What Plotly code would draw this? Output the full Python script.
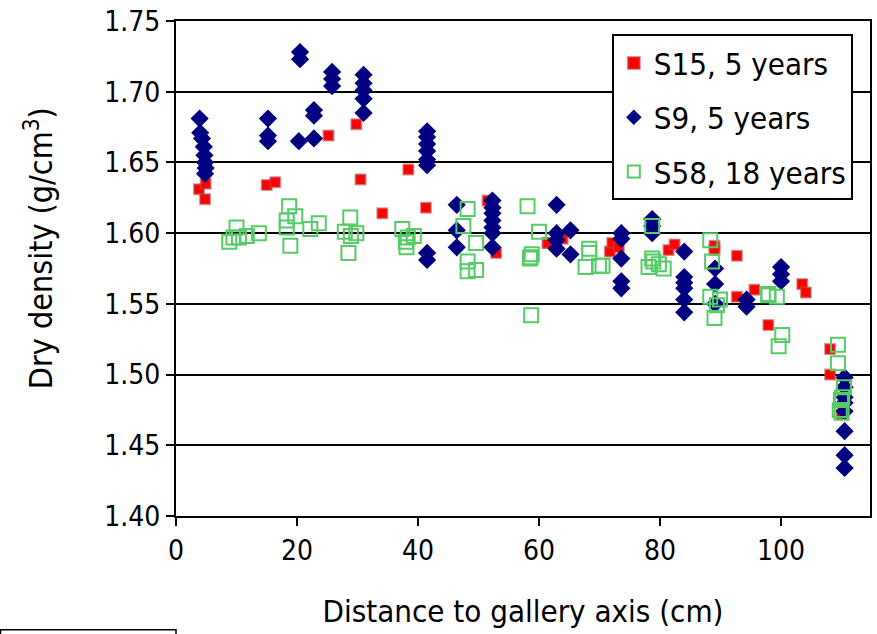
import plotly.graph_objects as go

# S15, 5 years (red filled squares)
s15_x = [3.8, 4.8, 4.9, 15.0, 16.4, 25.2, 29.8, 30.5, 34.1, 38.4, 41.3, 51.5, 52.3, 52.9,
         61.4, 61.5, 63.9, 71.7, 72.1, 73.2, 81.4, 82.4, 89.0, 89.0, 92.7, 92.7, 95.6,
         97.9, 103.5, 104.1, 108.1, 108.1, 110.0]
s15_y = [1.631, 1.624, 1.635, 1.634, 1.636, 1.669, 1.677, 1.638, 1.614, 1.645, 1.618, 1.623,
         1.621, 1.586, 1.593, 1.593, 1.596, 1.587, 1.593, 1.590, 1.588, 1.592, 1.591, 1.588,
         1.584, 1.555, 1.560, 1.535, 1.564, 1.558, 1.518, 1.500, 1.472]

# S9, 5 years (navy diamonds)
s9_x = [3.9, 4.0, 4.3, 4.6, 4.7, 4.8, 4.9, 4.8,
        15.2, 15.2, 15.2,
        20.5, 20.5, 20.3,
        22.8, 22.8, 22.8,
        25.8, 25.8, 25.8,
        31.0, 31.0, 31.0, 31.0, 31.0,
        41.5, 41.5, 41.5, 41.5, 41.5, 41.5, 41.5, 41.5,
        46.4, 46.4, 46.4,
        52.3, 52.3, 52.3, 52.3, 52.3, 52.3, 52.3,
        62.9, 62.9, 62.9, 62.9,
        65.2, 65.2,
        73.6, 73.6, 73.6, 73.6, 73.6,
        78.7, 78.7, 78.7,
        84.0, 84.0, 84.0, 84.0, 84.0, 84.0,
        89.1, 89.1, 89.1,
        94.3, 94.3,
        100.0, 100.0, 100.0,
        110.5, 110.5, 110.5, 110.5, 110.5, 110.5, 110.5, 110.5]
s9_y = [1.681, 1.671, 1.667, 1.661, 1.655, 1.650, 1.646, 1.642,
        1.681, 1.669, 1.665,
        1.728, 1.723, 1.665,
        1.687, 1.683, 1.667,
        1.714, 1.709, 1.704,
        1.712, 1.706, 1.701, 1.695, 1.685,
        1.672, 1.668, 1.663, 1.658, 1.652, 1.648, 1.586, 1.581,
        1.620, 1.602, 1.590,
        1.623, 1.618, 1.614, 1.609, 1.604, 1.600, 1.590,
        1.620, 1.600, 1.595, 1.589,
        1.602, 1.585,
        1.600, 1.596, 1.582, 1.566, 1.561,
        1.610, 1.605, 1.600,
        1.587, 1.569, 1.565, 1.561, 1.553, 1.544,
        1.575, 1.564, 1.550,
        1.553, 1.548,
        1.576, 1.571, 1.566,
        1.498, 1.491, 1.484, 1.480, 1.474, 1.460, 1.443, 1.434]

# S58, 18 years (green open squares)
s58_x = [8.8, 9.5, 10.0, 10.4, 11.7, 13.7, 18.7, 19.7, 18.3, 18.3, 18.9, 22.2, 23.6, 28.8,
         27.9, 28.9, 29.8, 28.5, 37.4, 38.3, 39.3, 38.1, 38.0, 48.2, 47.5, 49.6, 48.2, 49.6,
         48.2, 58.1, 60.0, 58.6, 58.8, 58.5, 58.7, 68.3, 68.3, 67.7, 69.9, 70.5, 78.7, 78.7,
         78.1, 78.9, 79.8, 80.6, 88.3, 88.6, 88.3, 89.9, 89.4, 89.0, 97.9, 97.9, 99.3, 100.2,
         99.6, 109.4, 109.4, 110.4, 110.1, 109.9, 109.7, 110.0]
s58_y = [1.594, 1.597, 1.604, 1.597, 1.598, 1.600, 1.619, 1.612, 1.609, 1.604, 1.591, 1.603,
         1.607, 1.611, 1.601, 1.598, 1.600, 1.586, 1.603, 1.597, 1.598, 1.590, 1.594, 1.617,
         1.605, 1.593, 1.580, 1.574, 1.573, 1.619, 1.601, 1.583, 1.585, 1.582, 1.542, 1.589,
         1.586, 1.576, 1.577, 1.577, 1.605, 1.582, 1.576, 1.580, 1.578, 1.575, 1.595, 1.580,
         1.555, 1.553, 1.549, 1.540, 1.557, 1.556, 1.555, 1.528, 1.520, 1.521, 1.508, 1.491,
         1.484, 1.482, 1.475, 1.473]

y_ticks = [1.40, 1.45, 1.50, 1.55, 1.60, 1.65, 1.70, 1.75]
x_ticks = [0, 20, 40, 60, 80, 100]

FONT = "DejaVu Sans Condensed, DejaVu Sans, sans-serif"

fig = go.Figure()
fig.add_trace(go.Scatter(
    x=s15_x, y=s15_y, mode="markers", name="S15, 5 years", legendgroup="a",
    marker=dict(symbol="square", size=10, color="#ff0000",
                line=dict(color="rgba(190,70,70,0.55)", width=2))))
fig.add_trace(go.Scatter(
    x=s9_x, y=s9_y, mode="markers", name="S9, 5 years", legendgroup="b",
    marker=dict(symbol="diamond", size=14, color="#000080",
                line=dict(color="#000080", width=0))))
fig.add_trace(go.Scatter(
    x=s58_x, y=s58_y, mode="markers", name="S58, 18 years", legendgroup="c",
    marker=dict(symbol="square-open", size=14, color="#55cc66",
                line=dict(color="#55cc66", width=2))))

fig.update_layout(
    width=877, height=634,
    margin=dict(l=176, r=5, t=20, b=118),
    paper_bgcolor="white", plot_bgcolor="white",
    font=dict(family=FONT, size=28, color="black"),
    showlegend=True,
    legend=dict(x=0.628, y=0.973, xanchor="left", yanchor="top",
                bgcolor="white", bordercolor="black", borderwidth=2,
                font=dict(family=FONT, size=31, color="black"),
                itemsizing="constant", tracegroupgap=11),
    xaxis=dict(range=[0, 114.7], tickvals=x_ticks, ticks="outside", ticklen=8,
               tickwidth=2, tickcolor="black", showgrid=False, zeroline=False,
               showline=True, linecolor="black", linewidth=2, mirror=True,
               tickfont=dict(family=FONT, size=28),
               title=dict(text="Distance to gallery axis (cm)", standoff=35,
                          font=dict(family=FONT, size=31))),
    yaxis=dict(range=[1.40, 1.75], tickvals=y_ticks, tickformat=".2f", ticks="outside",
               ticklen=8, tickwidth=2, tickcolor="black", showgrid=True,
               gridcolor="black", gridwidth=2, zeroline=False,
               showline=True, linecolor="black", linewidth=2, mirror=True,
               tickfont=dict(family=FONT, size=28)),
)

# y-axis title as a rotated annotation (slightly above plot centre, as in the reference)
fig.add_annotation(text="Dry density (g/cm<sup>3</sup>)", xref="paper", yref="paper",
                   x=-0.198, y=0.54, xanchor="center", yanchor="middle",
                   textangle=-90, showarrow=False,
                   font=dict(family=FONT, size=32, color="black"))

# small box fragment at the bottom-left corner
fig.add_shape(type="rect", xref="paper", yref="paper",
              x0=-0.2529, x1=0.0, y0=-0.30, y1=-0.2298,
              line=dict(color="black", width=1.5), fillcolor="rgba(0,0,0,0)")

fig.write_html("out.html")
